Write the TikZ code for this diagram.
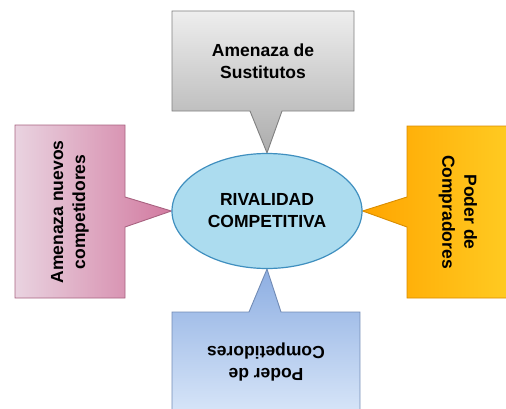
\documentclass[tikz,border=0pt]{standalone}
\usepackage{fontspec}
\setmainfont{Liberation Sans}
\usepackage{xcolor}
\usepackage{tikz}
\usetikzlibrary{shapes.geometric,backgrounds}

\definecolor{ovalfill}{HTML}{ACDCEF}
\definecolor{ovalline}{HTML}{3F8FBF}
\definecolor{grisA}{HTML}{EEEEEE}
\definecolor{grisB}{HTML}{ACACAC}
\definecolor{rosaA}{HTML}{E9D3E0}
\definecolor{rosaB}{HTML}{D27AA0}
\definecolor{naraA}{HTML}{FFA500}
\definecolor{naraB}{HTML}{FFCB22}
\definecolor{azulA}{HTML}{8DAEE2}
\definecolor{azulB}{HTML}{D7E5F8}

\begin{document}
\begin{tikzpicture}[x=1pt,y=1pt,
	label text/.style={font=\bfseries\fontsize{17.5}{22}\selectfont,align=center},
	box line/.style={line width=0.9pt}]
			\useasboundingbox (0,0) rectangle (506,408);
			\clip (0,0) rectangle (506,408);
			
			\node[ellipse,draw=ovalline,fill=ovalfill,line width=1.2pt,
			minimum width=190,minimum height=115,inner sep=0,label text]
			(rival) at (267,197) {RIVALIDAD\\COMPETITIVA};
			
			\begin{scope}[on background layer]
			% arriba
			\shade[box line,draw=gray,top color=grisA,bottom color=grisB]
			(172,397) -- (354,397) -- (354,297) -- (282,297) -- (rival.north)
			-- (250,297) -- (172,297) -- cycle;
			% izquierda
			\shade[box line,draw=rosaB!80!black,left color=rosaA,right color=rosaB]
			(15,283) -- (125,283) -- (125,211) -- (rival.west)
			-- (125,181) -- (125,110) -- (15,110) -- cycle;
			% derecha
			\shade[box line,draw=naraA!85!black,left color=naraA,right color=naraB]
			(510,282) -- (407,282) -- (407,211) -- (rival.east)
			-- (407,181) -- (407,110) -- (510,110) -- cycle;
			% abajo
			\shade[box line,draw=azulA!80!black,top color=azulA,bottom color=azulB]
			(172,-5) -- (172,96) -- (249,96) -- (rival.south)
			-- (281,96) -- (360,96) -- (360,-5);
			\end{scope}
			
			\node[label text] (sust) at (263,347) {Amenaza de\\Sustitutos};
			\node[label text,rotate=90] (nuevos) at (70,196) {Amenaza nuevos\\competidores};
			\node[label text,rotate=-90] (compra) at (458,196) {Poder de\\Compradores};
			\node[label text,rotate=180] (compet) at (266,46) {Poder de\\Competidores};
		\end{tikzpicture}
\end{document}
